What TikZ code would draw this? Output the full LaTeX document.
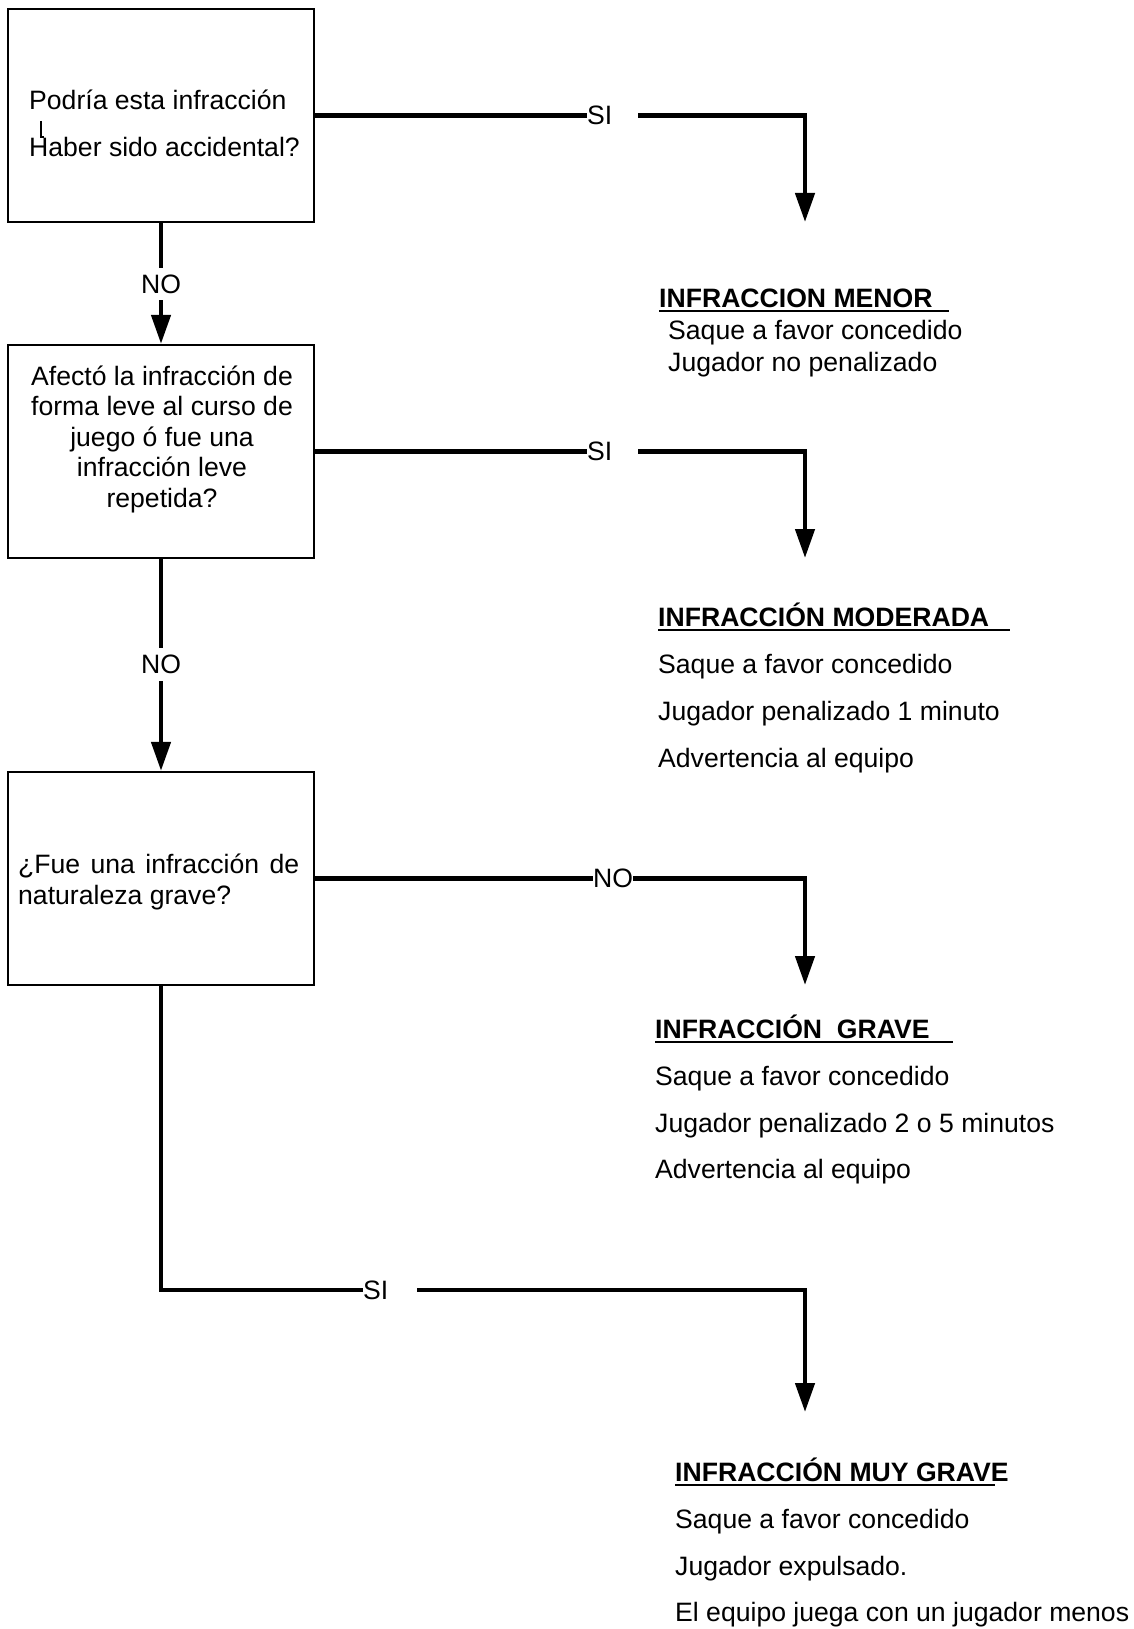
\documentclass[tikz,border=0pt]{standalone}
\usepackage{fontspec}
\setmainfont{Liberation Sans}
\usetikzlibrary{arrows.meta}
\newcommand\fsz{\fontsize{26.6pt}{32pt}\selectfont}
\begin{document}
\begin{tikzpicture}[x=1pt,y=-1pt,
  box/.style={draw, line width=2.3pt, minimum width=306pt, minimum height=213pt, inner sep=0pt},
  conn/.style={line width=4.5pt},
  arr/.style={conn, -{Triangle[length=29pt,width=19pt]}},
  lbl/.style={font=\fsz, inner sep=0pt},
  txt/.style={font=\fsz, inner sep=0pt, anchor=base west},
  ctxt/.style={font=\fsz, inner sep=0pt, anchor=base},
  head/.style={font=\fsz\bfseries, inner sep=0pt, anchor=base west},
  uline/.style={line width=2pt}]
\useasboundingbox (0,0) rectangle (1133,1629);

% decision boxes
\node[box] (b1) at (161,115.5) {};
\node[box] (b2) at (161,451.5) {};
\node[box] (b3) at (161,878.5) {};

% box 1 text
\node[txt] (t1a) at (29,110) {Podría esta infracción};
\node[txt] (t1b) at (29,157) {Haber sido accidental?};
\draw[line width=1.3pt] (41,121) -- (41,137) -- (44,137);

% box 2 text
\node[ctxt] (t2a) at (162,385) {Afectó la infracción de};
\node[ctxt] (t2b) at (162,415) {forma leve al curso de};
\node[ctxt] (t2c) at (162,446) {juego ó fue una};
\node[ctxt] (t2d) at (162,476) {infracción leve};
\node[ctxt] (t2e) at (162,507) {repetida?};

% box 3 text
\node[txt] (t3a) at (18,873) {\makebox[281pt][s]{¿Fue una infracción de}};
\node[txt] (t3b) at (18,904) {naturaleza grave?};

% vertical NO connectors
\node[lbl, inner ysep=6.5pt] (no1) at (161,284) {NO};
\draw[conn] (b1.south) -- (no1.north);
\draw[arr] (no1.south) -- (b2.north);
\node[lbl, inner ysep=7pt] (no2) at (161,664.5) {NO};
\draw[conn] (b2.south) -- (no2.north);
\draw[arr] (no2.south) -- (b3.north);

% row 1
\node[lbl, anchor=west] (si1) at (587,115.5) {SI};
\coordinate (r1a) at (638,115.5);
\coordinate (r1c) at (805,115.5);
\coordinate (r1t) at (805,222);
\draw[conn] (b1.east) -- (si1.west);
\draw[arr] (r1a) -- (r1c) -- (r1t);

% row 2
\node[lbl, anchor=west] (si2) at (587,451.5) {SI};
\coordinate (r2a) at (638,451.5);
\coordinate (r2c) at (805,451.5);
\coordinate (r2t) at (805,558);
\draw[conn] (b2.east) -- (si2.west);
\draw[arr] (r2a) -- (r2c) -- (r2t);

% row 3
\node[lbl, anchor=west] (no3) at (593,878.5) {NO};
\coordinate (r3c) at (805,878.5);
\coordinate (r3t) at (805,985);
\draw[conn] (b3.east) -- (no3.west);
\draw[arr] (no3.east) -- (r3c) -- (r3t);

% row 4
\node[lbl, anchor=west] (si4) at (363,1290) {SI};
\coordinate (r4b) at (161,1290);
\coordinate (r4a) at (417,1290);
\coordinate (r4c) at (805,1290);
\coordinate (r4t) at (805,1412);
\draw[conn] (b3.south) -- (r4b) -- (si4.west);
\draw[arr] (r4a) -- (r4c) -- (r4t);

% outcome 1
\node[head] (h1) at (659,307) {INFRACCION MENOR};
\draw[uline] (659,311) -- (949,311);
\node[txt] (o1a) at (668,339) {Saque a favor concedido};
\node[txt] (o1b) at (668,371) {Jugador no penalizado};

% outcome 2
\node[head] (h2) at (658,626) {INFRACCIÓN MODERADA};
\draw[uline] (658,630) -- (1010,630);
\node[txt] (o2a) at (658,673) {Saque a favor concedido};
\node[txt] (o2b) at (658,720) {Jugador penalizado 1 minuto};
\node[txt] (o2c) at (658,767) {Advertencia al equipo};

% outcome 3
\node[head] (h3) at (655,1038) {INFRACCIÓN\ \ GRAVE};
\draw[uline] (655,1042) -- (953,1042);
\node[txt] (o3a) at (655,1085) {Saque a favor concedido};
\node[txt] (o3b) at (655,1132) {Jugador penalizado 2 o 5 minutos};
\node[txt] (o3c) at (655,1178) {Advertencia al equipo};

% outcome 4
\node[head] (h4) at (675,1481) {INFRACCIÓN MUY GRAVE};
\draw[uline] (675,1485) -- (995,1485);
\node[txt] (o4a) at (675,1528) {Saque a favor concedido};
\node[txt] (o4b) at (675,1575) {Jugador expulsado.};
\node[txt] (o4c) at (675,1621) {El equipo juega con un jugador menos};
\end{tikzpicture}
\end{document}
